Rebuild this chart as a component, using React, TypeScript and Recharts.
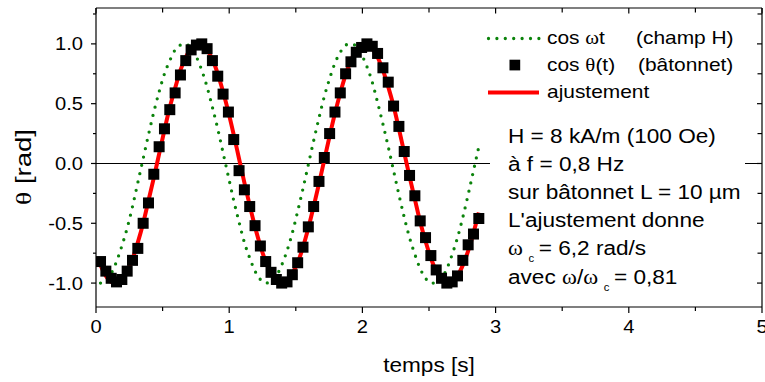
import { ComposedChart, Line, XAxis, YAxis, ReferenceLine } from "recharts";

// temps [s]
const temps = [
  0.034, 0.074, 0.114, 0.154, 0.194, 0.234, 0.274, 0.314, 0.354, 0.394,
  0.434, 0.474, 0.514, 0.554, 0.594, 0.634, 0.674, 0.714, 0.754, 0.794,
  0.834, 0.874, 0.914, 0.954, 0.994, 1.034, 1.074, 1.114, 1.154, 1.194,
  1.234, 1.274, 1.314, 1.354, 1.394, 1.434, 1.474, 1.514, 1.554, 1.594,
  1.634, 1.674, 1.714, 1.754, 1.794, 1.834, 1.874, 1.914, 1.954, 1.994,
  2.034, 2.074, 2.114, 2.154, 2.194, 2.234, 2.274, 2.314, 2.354, 2.394,
  2.434, 2.474, 2.514, 2.554, 2.594, 2.634, 2.674, 2.714, 2.754, 2.794,
  2.834, 2.874,
];

// cos ωt (champ H) - pointillés verts
const champH = [
  -1.0, -0.98, -0.92, -0.82, -0.69, -0.54, -0.36, -0.16, 0.04, 0.24,
  0.43, 0.6, 0.75, 0.86, 0.95, 0.99, 1.0, 0.96, 0.89, 0.78,
  0.64, 0.47, 0.29, 0.09, -0.11, -0.31, -0.49, -0.66, -0.79, -0.9,
  -0.97, -1.0, -0.99, -0.94, -0.85, -0.73, -0.58, -0.4, -0.21, -0.01,
  0.19, 0.38, 0.56, 0.71, 0.84, 0.93, 0.99, 1.0, 0.98, 0.91,
  0.81, 0.68, 0.51, 0.33, 0.14, -0.06, -0.26, -0.45, -0.62, -0.76,
  -0.88, -0.96, -1.0, -1.0, -0.96, -0.88, -0.76, -0.62, -0.45, -0.26,
  -0.06, 0.14,
];

// cos θ(t) (bâtonnet) - carrés noirs
const batonnet = [
  -0.82, -0.9, -0.96, -0.99, -0.97, -0.9, -0.81, -0.71, -0.5, -0.33,
  -0.09, 0.14, 0.29, 0.45, 0.59, 0.74, 0.86, 0.95, 0.99, 1.0,
  0.96, 0.86, 0.73, 0.58, 0.43, 0.2, -0.06, -0.22, -0.36, -0.52,
  -0.69, -0.82, -0.91, -0.97, -1.0, -0.99, -0.93, -0.83, -0.7, -0.53,
  -0.36, -0.15, 0.05, 0.25, 0.43, 0.59, 0.75, 0.85, 0.93, 0.97,
  1.0, 0.98, 0.92, 0.8, 0.68, 0.48, 0.31, 0.1, -0.1, -0.27,
  -0.48, -0.62, -0.77, -0.89, -0.96, -1.0, -0.99, -0.94, -0.81, -0.68,
  -0.59, -0.46,
];

// ajustement - ligne rouge
const ajustement = [
  -0.85, -0.94, -0.99, -1.0, -0.97, -0.9, -0.8, -0.66, -0.5, -0.31,
  -0.12, 0.08, 0.28, 0.47, 0.63, 0.78, 0.89, 0.96, 1.0, 0.99,
  0.95, 0.87, 0.75, 0.6, 0.43, 0.24, 0.04, -0.16, -0.35, -0.53,
  -0.69, -0.82, -0.92, -0.98, -1.0, -0.98, -0.92, -0.83, -0.7, -0.54,
  -0.36, -0.17, 0.03, 0.23, 0.42, 0.59, 0.74, 0.86, 0.95, 0.99,
  1.0, 0.96, 0.89, 0.78, 0.64, 0.48, 0.29, 0.09, -0.11, -0.3,
  -0.49, -0.65, -0.79, -0.9, -0.97, -1.0, -0.99, -0.94, -0.85, -0.73,
  -0.58, -0.41,
];

const xTicks = [0, 0.5, 1, 1.5, 2, 2.5, 3, 3.5, 4, 4.5, 5];
const yTicks = [-1, -0.75, -0.5, -0.25, 0, 0.25, 0.5, 0.75, 1, 1.25];

const infoLines = [
  "H = 8 kA/m (100 Oe)",
  "à f = 0,8 Hz",
  "sur bâtonnet L = 10 µm",
  "L'ajustement donne",
];

const rows = temps.map((t, i) => ({
  t,
  champ: champH[i],
  baton: batonnet[i],
  fit: ajustement[i],
}));

const FONT = "'Liberation Sans', Arial, sans-serif";
const SERIF = "'Liberation Serif', 'Times New Roman', serif";
const SX = 1.12;
const GREEN = "#0b830b";

const isMajorX = (v: number) => Number.isInteger(v);
const isMajorY = (v: number) => Number.isInteger(v * 2);

function BottomTick(props: any) {
  const { x, y, payload } = props;
  const major = isMajorX(payload.value);
  return (
    <g>
      <line x1={x} y1={y} x2={x} y2={y + (major ? 6 : 4)} stroke="#000" strokeWidth={1.2} />
      {major && (
        <text
          transform={`translate(${x},${y + 26}) scale(${SX},1)`}
          textAnchor="middle"
          fontSize={18}
          fontFamily={FONT}
          fill="#000"
        >
          {payload.value}
        </text>
      )}
    </g>
  );
}

function TopTick(props: any) {
  const { x, y, payload } = props;
  const major = isMajorX(payload.value);
  return <line x1={x} y1={y} x2={x} y2={y + (major ? 5.5 : 4.5)} stroke="#000" strokeWidth={1.2} />;
}

function LeftTick(props: any) {
  const { x, y, payload } = props;
  const major = isMajorY(payload.value);
  return (
    <g>
      <line x1={x - (major ? 5 : 3)} y1={y} x2={x} y2={y} stroke="#000" strokeWidth={1.2} />
      {major && (
        <text
          transform={`translate(${x - 13},${y + 6.5}) scale(${SX},1)`}
          textAnchor="end"
          fontSize={18}
          fontFamily={FONT}
          fill="#000"
        >
          {payload.value.toFixed(1)}
        </text>
      )}
    </g>
  );
}

function RightTick(props: any) {
  const { x, y, payload } = props;
  const major = isMajorY(payload.value);
  return <line x1={x - (major ? 5 : 4.5)} y1={y} x2={x} y2={y} stroke="#000" strokeWidth={1.2} />;
}

function SquareDot(props: any) {
  const { cx, cy, index } = props;
  if (cx == null || cy == null) return <g key={index} />;
  return <rect key={index} x={cx - 5.5} y={cy - 5.5} width={11} height={11} fill="#000" />;
}

const txt = (left: number, cy: number, size = 20): React.CSSProperties => ({
  position: "absolute",
  left,
  top: cy - size / 2,
  fontSize: size,
  lineHeight: `${size}px`,
  fontFamily: FONT,
  color: "#000",
  whiteSpace: "nowrap",
  transform: `scaleX(1.13)`,
  transformOrigin: "left center",
});

const omega = { fontFamily: SERIF };
const sub = { fontSize: 10, position: "relative" as const, top: 7, margin: "0 4px 0 5px" };

export default function App() {
  const axisLine = { stroke: "#000", strokeWidth: 1.2 };
  return (
    <div style={{ position: "absolute", left: 0, top: 0, width: 765, height: 382, background: "#fff", overflow: "hidden" }}>
      <ComposedChart width={765} height={382} data={rows} margin={{ top: 0, right: 0, bottom: 0, left: 0 }}>
        <XAxis
          xAxisId="b"
          dataKey="t"
          type="number"
          domain={[0, 5]}
          allowDataOverflow
          ticks={xTicks}
          interval={0}
          height={75}
          tickSize={0}
          tickMargin={0}
          axisLine={axisLine}
          tickLine={false}
          tick={BottomTick}
        />
        <XAxis
          xAxisId="top"
          orientation="top"
          dataKey="t"
          type="number"
          domain={[0, 5]}
          allowDataOverflow
          ticks={xTicks}
          interval={0}
          height={8}
          tickSize={0}
          tickMargin={0}
          axisLine={axisLine}
          tickLine={false}
          tick={TopTick}
        />
        <YAxis
          yAxisId="l"
          type="number"
          domain={[-1.2, 1.3]}
          allowDataOverflow
          ticks={yTicks}
          interval={0}
          width={96}
          tickSize={0}
          tickMargin={0}
          axisLine={axisLine}
          tickLine={false}
          tick={LeftTick}
        />
        <YAxis
          yAxisId="r"
          orientation="right"
          type="number"
          domain={[-1.2, 1.3]}
          allowDataOverflow
          ticks={yTicks}
          interval={0}
          width={3}
          tickSize={0}
          tickMargin={0}
          axisLine={axisLine}
          tickLine={false}
          tick={RightTick}
        />
        <ReferenceLine xAxisId="b" yAxisId="l" y={0} stroke="#000" strokeWidth={1.2} />
        <Line
          xAxisId="b"
          yAxisId="l"
          dataKey="fit"
          type="monotone"
          stroke="#ff0000"
          strokeWidth={4}
          dot={false}
          activeDot={false}
          isAnimationActive={false}
        />
        <Line
          xAxisId="b"
          yAxisId="l"
          dataKey="baton"
          stroke="none"
          dot={SquareDot}
          activeDot={false}
          isAnimationActive={false}
        />
        <Line
          xAxisId="b"
          yAxisId="l"
          dataKey="champ"
          type="monotone"
          stroke={GREEN}
          strokeWidth={3.3}
          strokeDasharray="0 8.5"
          strokeLinecap="round"
          dot={false}
          activeDot={false}
          isAnimationActive={false}
        />
      </ComposedChart>

      {/* légende */}
      <svg style={{ position: "absolute", left: 480, top: 25 }} width={70} height={80}>
        <line x1={8.5} y1={13.5} x2={59} y2={13.5} stroke={GREEN} strokeWidth={3.3} strokeDasharray="0 8.4" strokeLinecap="round" />
        <rect x={29.5} y={34.7} width={10.7} height={10.7} fill="#000" />
        <line x1={8} y1={67.5} x2={59} y2={67.5} stroke="#ff0000" strokeWidth={4} />
      </svg>
      <div style={txt(547, 38.3, 18.5)}>
        cos <span style={omega}>ω</span>t
      </div>
      <div style={txt(636, 38.3, 18.5)}>(champ H)</div>
      <div style={txt(547, 65.5, 18.5)}>
        cos <span style={omega}>θ</span>(t)
      </div>
      <div style={txt(638, 65.5, 18.5)}>(bâtonnet)</div>
      <div style={txt(547, 92.5, 18.5)}>ajustement</div>

      {/* texte d'information */}
      <div style={{ position: "absolute", left: 490, top: 118, width: 255, height: 178, background: "#fff" }} />
      {infoLines.map((l, i) => (
        <div key={l} style={txt(507.7, 135.5 + 28.2 * i)}>
          {l}
        </div>
      ))}
      <div style={txt(507.7, 135.5 + 28.2 * 4)}>
        <span style={omega}>ω</span>
        <span style={sub}>c</span>= 6,2 rad/s
      </div>
      <div style={txt(507.7, 135.5 + 28.2 * 5)}>
        avec <span style={omega}>ω</span>/<span style={omega}>ω</span>
        <span style={sub}>c</span>= 0,81
      </div>

      {/* titres des axes */}
      <div style={{ ...txt(429, 364.5), transform: "translateX(-50%) scaleX(1.13)", transformOrigin: "center center" }}>
        temps [s]
      </div>
      <div
        style={{
          position: "absolute",
          left: 24,
          top: 167,
          fontSize: 22,
          lineHeight: "22px",
          fontFamily: FONT,
          whiteSpace: "nowrap",
          transform: "translate(-50%,-50%) rotate(-90deg) scale(1.25,1)",
        }}
      >
        <span style={omega}>θ</span> [rad]
      </div>
    </div>
  );
}
